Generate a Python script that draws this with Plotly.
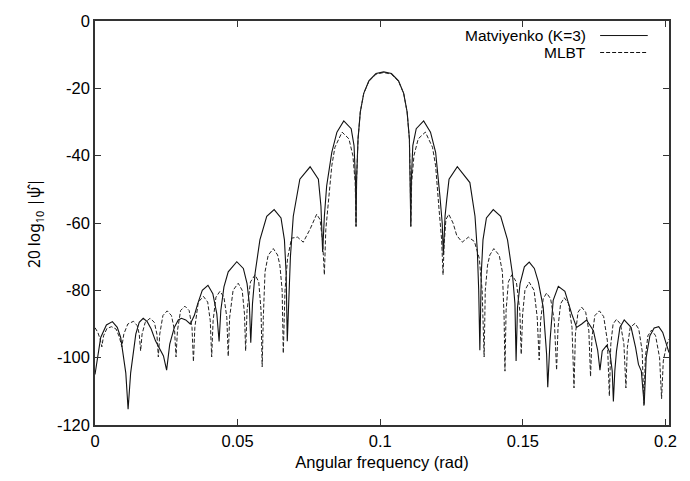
import plotly.graph_objects as go

# ---- data ----
matv_x = [0, 0.0020, 0.0040, 0.0061, 0.0078, 0.0090, 0.0108, 0.0116,
          0.0125, 0.0143, 0.0155, 0.0169, 0.0183, 0.0197, 0.0212, 0.0225, 0.0240, 0.0251,
          0.0262, 0.0278, 0.0292, 0.0303, 0.0318, 0.0334, 0.0348, 0.0360, 0.0376, 0.0396, 0.0413, 0.0427, 0.0435,
          0.0441, 0.0452, 0.0467, 0.0497, 0.0520, 0.0533, 0.0541, 0.0546,
          0.0552, 0.0561, 0.0578, 0.0602, 0.0628, 0.0652, 0.0664, 0.0670, 0.0674,
          0.0679, 0.0685, 0.0695, 0.0718, 0.0754, 0.0783, 0.0792, 0.0798,
          0.0804, 0.0812, 0.0830, 0.0848, 0.0872, 0.0898, 0.0908, 0.0913, 0.0915,
          0.0917, 0.0922, 0.0930, 0.0942, 0.0960, 0.0985, 0.1012, 0.1039, 0.1064, 0.1082, 0.1094, 0.1102, 0.1105, 0.1107,
          0.1109, 0.1114, 0.1126, 0.1152, 0.1176, 0.1194, 0.1209, 0.1217, 0.1221,
          0.1227, 0.1233, 0.1241, 0.1270, 0.1314, 0.1332, 0.1340, 0.1345, 0.1349,
          0.1354, 0.1360, 0.1372, 0.1396, 0.1422, 0.1446, 0.1463, 0.1472, 0.1476,
          0.1481, 0.1490, 0.1505, 0.1522, 0.1540, 0.1554, 0.1571, 0.1583, 0.1587,
          0.1595, 0.1606, 0.1624, 0.1647, 0.1671, 0.1688, 0.1706, 0.1723, 0.1747, 0.1762, 0.1770,
          0.1778, 0.1793, 0.1805, 0.1813, 0.1817,
          0.1822, 0.1828, 0.1840, 0.1855, 0.1879, 0.1895, 0.1905, 0.1915, 0.1925,
          0.1932, 0.1945, 0.1960, 0.1976, 0.1990, 0.2012]
matv_y = [-105, -94, -90.3, -89.3, -91, -94, -104.6, -115.3,
          -104.5, -93, -89.5, -88.3, -89.3, -91.5, -95, -97, -99.5, -103.7,
          -96, -91, -88.8, -88.3, -88.8, -90, -87.5, -84, -80, -78.5, -81, -87, -95.2,
          -86, -79, -74.5, -71.5, -73.5, -78, -84, -95.6,
          -84, -75, -65, -58, -56, -58.5, -65, -75, -95.1,
          -82, -70, -58, -47, -43.3, -47, -55, -68.6,
          -58, -49, -39, -33, -29.7, -32, -37, -47, -61,
          -47, -35, -27, -21.5, -17.8, -15.6, -15.1, -15.6, -17.8, -21.5, -27, -35, -47, -61,
          -47, -37, -32, -29.7, -33, -39, -52, -60, -69.6,
          -58, -53, -47, -43.3, -48, -58, -68, -80, -97.8,
          -75, -65, -58.5, -56, -58, -65, -75, -84, -101,
          -85, -78, -73, -71.6, -73.5, -77.5, -85, -99, -108.8,
          -95, -83, -78.8, -80.3, -87, -91, -90, -88.8, -92, -97.8, -103.7,
          -98, -96.4, -98.5, -104, -113,
          -104, -98, -91, -88.8, -91, -97, -102, -104, -114,
          -100, -93.5, -91.2, -90.8, -92.5, -98.5]

mlbt_x = [0, 0.0010, 0.0018, 0.0024, 0.0030, 0.0042, 0.0058, 0.0074, 0.0086, 0.0094,
          0.0101, 0.0115, 0.0135, 0.0148, 0.0155, 0.0160,
          0.0165, 0.0176, 0.0193, 0.0208, 0.0217, 0.0222,
          0.0227, 0.0238, 0.0253, 0.0268, 0.0279, 0.0284,
          0.0289, 0.0300, 0.0315, 0.0330, 0.0340, 0.0345,
          0.0350, 0.0362, 0.0380, 0.0395, 0.0404, 0.0409,
          0.0414, 0.0424, 0.0438, 0.0452, 0.0462, 0.0467,
          0.0472, 0.0484, 0.0502, 0.0516, 0.0524, 0.0528,
          0.0533, 0.0545, 0.0561, 0.0574, 0.0582, 0.0586,
          0.0590, 0.0596, 0.0607, 0.0625, 0.0640, 0.0648, 0.0656, 0.0660,
          0.0666, 0.0675, 0.0689, 0.0710, 0.0730, 0.0754, 0.0777, 0.0789, 0.0798, 0.0804,
          0.0809, 0.0818, 0.0830, 0.0841, 0.0866, 0.0890, 0.0904, 0.0912, 0.0915,
          0.0917, 0.0922, 0.0930, 0.0942, 0.0960, 0.0985, 0.1012, 0.1039, 0.1064, 0.1082, 0.1094, 0.1102, 0.1105, 0.1107,
          0.1110, 0.1118, 0.1133, 0.1158, 0.1183, 0.1194, 0.1206, 0.1215, 0.1220,
          0.1224, 0.1230, 0.1240, 0.1255, 0.1268, 0.1287, 0.1309, 0.1330, 0.1347, 0.1357, 0.1364,
          0.1368, 0.1376, 0.1384, 0.1398, 0.1417, 0.1428, 0.1434, 0.1437,
          0.1441, 0.1449, 0.1461, 0.1477, 0.1489, 0.1494,
          0.1499, 0.1507, 0.1522, 0.1539, 0.1550, 0.1557,
          0.1562, 0.1571, 0.1583, 0.1597, 0.1610, 0.1618,
          0.1623, 0.1632, 0.1645, 0.1660, 0.1672, 0.1679,
          0.1684, 0.1693, 0.1706, 0.1720, 0.1731, 0.1737,
          0.1742, 0.1752, 0.1768, 0.1783, 0.1796, 0.1803,
          0.1808, 0.1816, 0.1828, 0.1842, 0.1854, 0.1861,
          0.1866, 0.1876, 0.1893, 0.1906, 0.1918, 0.1924,
          0.1929, 0.1938, 0.1951, 0.1965, 0.1979, 0.1986,
          0.1992, 0.2003, 0.2012]
mlbt_y = [-91.1, -92.5, -94.5, -96.8, -93.5, -91.3, -90.8, -91.5, -94, -96.8,
          -93, -90, -89.2, -90.5, -93, -98,
          -93, -89.5, -88.3, -89.5, -93, -99.8,
          -93, -87.5, -86.1, -87.5, -92, -99.8,
          -92, -86, -84.7, -86, -91, -101.2,
          -91, -83.5, -81.8, -83.5, -89, -99.8,
          -89, -82, -80.3, -82, -88, -99.6,
          -88, -80, -77.9, -80, -87, -98,
          -86, -77.5, -75.4, -77.5, -86, -102.7,
          -88, -74.5, -69.6, -67.6, -69.5, -72.5, -80, -98.7,
          -80, -70.5, -64.5, -64.2, -65.7, -61.8, -57.4, -59, -65.7, -75.4,
          -62, -53, -43, -37.5, -33, -35, -40, -48, -61,
          -47, -35, -27, -21.5, -17.9, -15.8, -15.3, -15.8, -17.9, -21.5, -27, -35, -47, -61,
          -48, -40, -35, -33, -37.5, -43, -56, -65, -75.4,
          -66, -59, -57.4, -60, -63.7, -65.7, -64.2, -65.5, -70.5, -80, -99.8,
          -80, -72.5, -69.5, -67.6, -69.6, -74.5, -88, -104,
          -86, -77.5, -75.4, -77.5, -86, -99,
          -87, -80, -77.6, -80, -88, -100.7,
          -89, -82.5, -80.8, -82.5, -89, -103.7,
          -91, -84, -82.2, -84, -91, -109,
          -93, -86.5, -85, -86.5, -92, -105.6,
          -94, -87.5, -86.1, -87.8, -95, -111.4,
          -96, -90, -88.6, -90, -96, -109,
          -97, -91, -89.8, -91.5, -98, -114.2,
          -100, -93.5, -91.8, -93.5, -100, -112.2,
          -101, -96.4, -94.5]

series_names = ["Matviyenko (K=3)", "MLBT"]
x_ticks = [0, 0.05, 0.1, 0.15, 0.2]
x_tick_labels = ["0", "0.05", "0.1", "0.15", "0.2"]
y_ticks = [0, -20, -40, -60, -80, -100, -120]
y_tick_labels = ["0", "-20", "-40", "-60", "-80", "-100", "-120"]

FONT = "Liberation Sans, Arial, Helvetica, sans-serif"
FS = 16.5

fig = go.Figure()
fig.add_trace(go.Scatter(x=matv_x, y=matv_y, mode="lines", name=series_names[0],
                         line=dict(color="#111111", width=1.1), showlegend=False))
fig.add_trace(go.Scatter(x=mlbt_x, y=mlbt_y, mode="lines", name=series_names[1],
                         line=dict(color="#222222", width=1.0, dash="4px,2px"), showlegend=False))

# gnuplot-style key: text right-aligned, sample line to its right
key_rows = [(0.964, "solid"), (0.922, "4px,2px")]
for (ky, dash), name in zip(key_rows, series_names):
    fig.add_annotation(x=0.859, y=ky, xref="paper", yref="paper", text=name,
                       showarrow=False, xanchor="right", yanchor="middle",
                       font=dict(family=FONT, size=15.5, color="black"))
    fig.add_shape(type="line", xref="paper", yref="paper", x0=0.880, x1=0.963, y0=ky, y1=ky,
                  line=dict(color="#111111", width=1, dash=dash))

axis_common = dict(showgrid=False, zeroline=False, showline=True, mirror="allticks",
                   linecolor="#333333", linewidth=1.5, ticks="inside", ticklen=6,
                   tickcolor="#333333", tickwidth=1,
                   tickfont=dict(family=FONT, size=FS, color="black"))

fig.update_xaxes(range=[0, 0.2012], tickvals=x_ticks, ticktext=x_tick_labels,
                 title=dict(text="Angular frequency (rad)", standoff=8,
                            font=dict(family=FONT, size=FS, color="black")),
                 **axis_common)
fig.update_yaxes(range=[-120, 0], tickvals=y_ticks, ticktext=y_tick_labels,
                 title=dict(text="20 log<sub>10</sub> |\u03c8\u0302|", standoff=12,
                            font=dict(family="Noto Sans, DejaVu Sans, sans-serif", size=15.5, color="black")),
                 **axis_common)

fig.update_layout(width=690, height=481, margin=dict(l=95, r=21, t=15, b=55),
                  plot_bgcolor="white", paper_bgcolor="white",
                  font=dict(family=FONT, size=FS, color="black"))

fig.write_html("out.html")
